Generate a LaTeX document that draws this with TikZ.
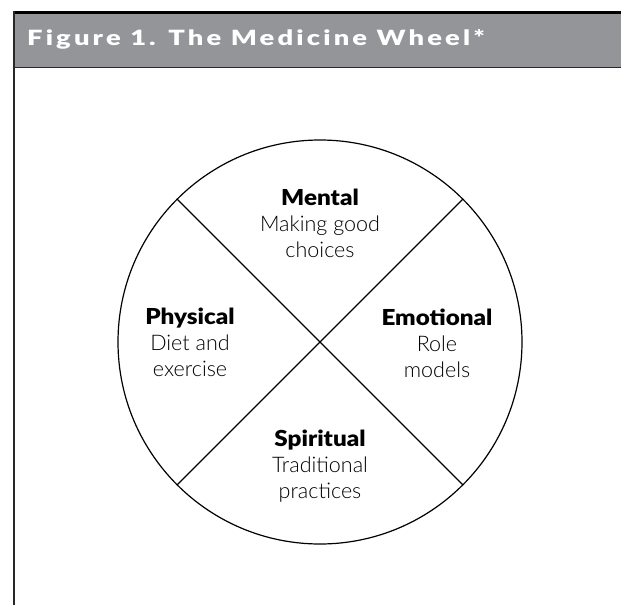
\documentclass[tikz,border=0pt]{standalone}
\usepackage{fontspec}
\usetikzlibrary{calc}
\setmainfont{Lato}
\newfontfamily\headfont[LetterSpace=15,FakeStretch=1.3]{Lato Black}
\newfontfamily\qfont[FakeStretch=1.1]{Lato Black}
\newfontfamily\lightfont{Lato Light}
\definecolor{barGray}{RGB}{147,149,152}
\definecolor{edgeGray}{RGB}{40,40,40}
\newcommand{\qhead}[1]{{\qfont\fontsize{22}{26}\selectfont #1}}
\tikzset{
  wheelline/.style={line width=1.2pt, black},
  quad/.style={align=center, font=\lightfont\fontsize{21.5}{26}\selectfont, text=black, inner sep=0pt},
}
\begin{document}
\begin{tikzpicture}[x=1pt,y=-1pt]
\useasboundingbox (0,0) rectangle (621,605);
% header bar
\fill[barGray] (13,13) rectangle (621,67);
\draw[line width=3pt,black] (13,12) -- (621,12);
\draw[line width=0.8pt,edgeGray] (13,67) -- (621,67);
\draw[line width=2pt,edgeGray] (14,11) -- (14,605);
\node[anchor=base west, text=white, inner sep=0pt, font=\headfont\fontsize{21}{24}\selectfont] (title) at (27,45.5) {Figure 1. The Medicine Wheel*};
% wheel
\coordinate (c) at (320,342);
\draw[wheelline] (c) circle[radius=202pt];
\draw[wheelline] ($(c)+(-142.8,-142.8)$) -- ($(c)+(142.8,142.8)$);
\draw[wheelline] ($(c)+(142.8,-142.8)$) -- ($(c)+(-142.8,142.8)$);
\node[quad] (mental) at (320,223) {\qhead{Mental}\\Making good\\choices};
\node[quad] (physical) at (190,342) {\qhead{Physical}\\Diet and\\exercise};
\node[quad] (emotional) at (437,343) {\qhead{Emotional}\\Role\\models};
\node[quad] (spiritual) at (320,466) {\qhead{Spiritual}\\Traditional\\practices};
\end{tikzpicture}
\end{document}
